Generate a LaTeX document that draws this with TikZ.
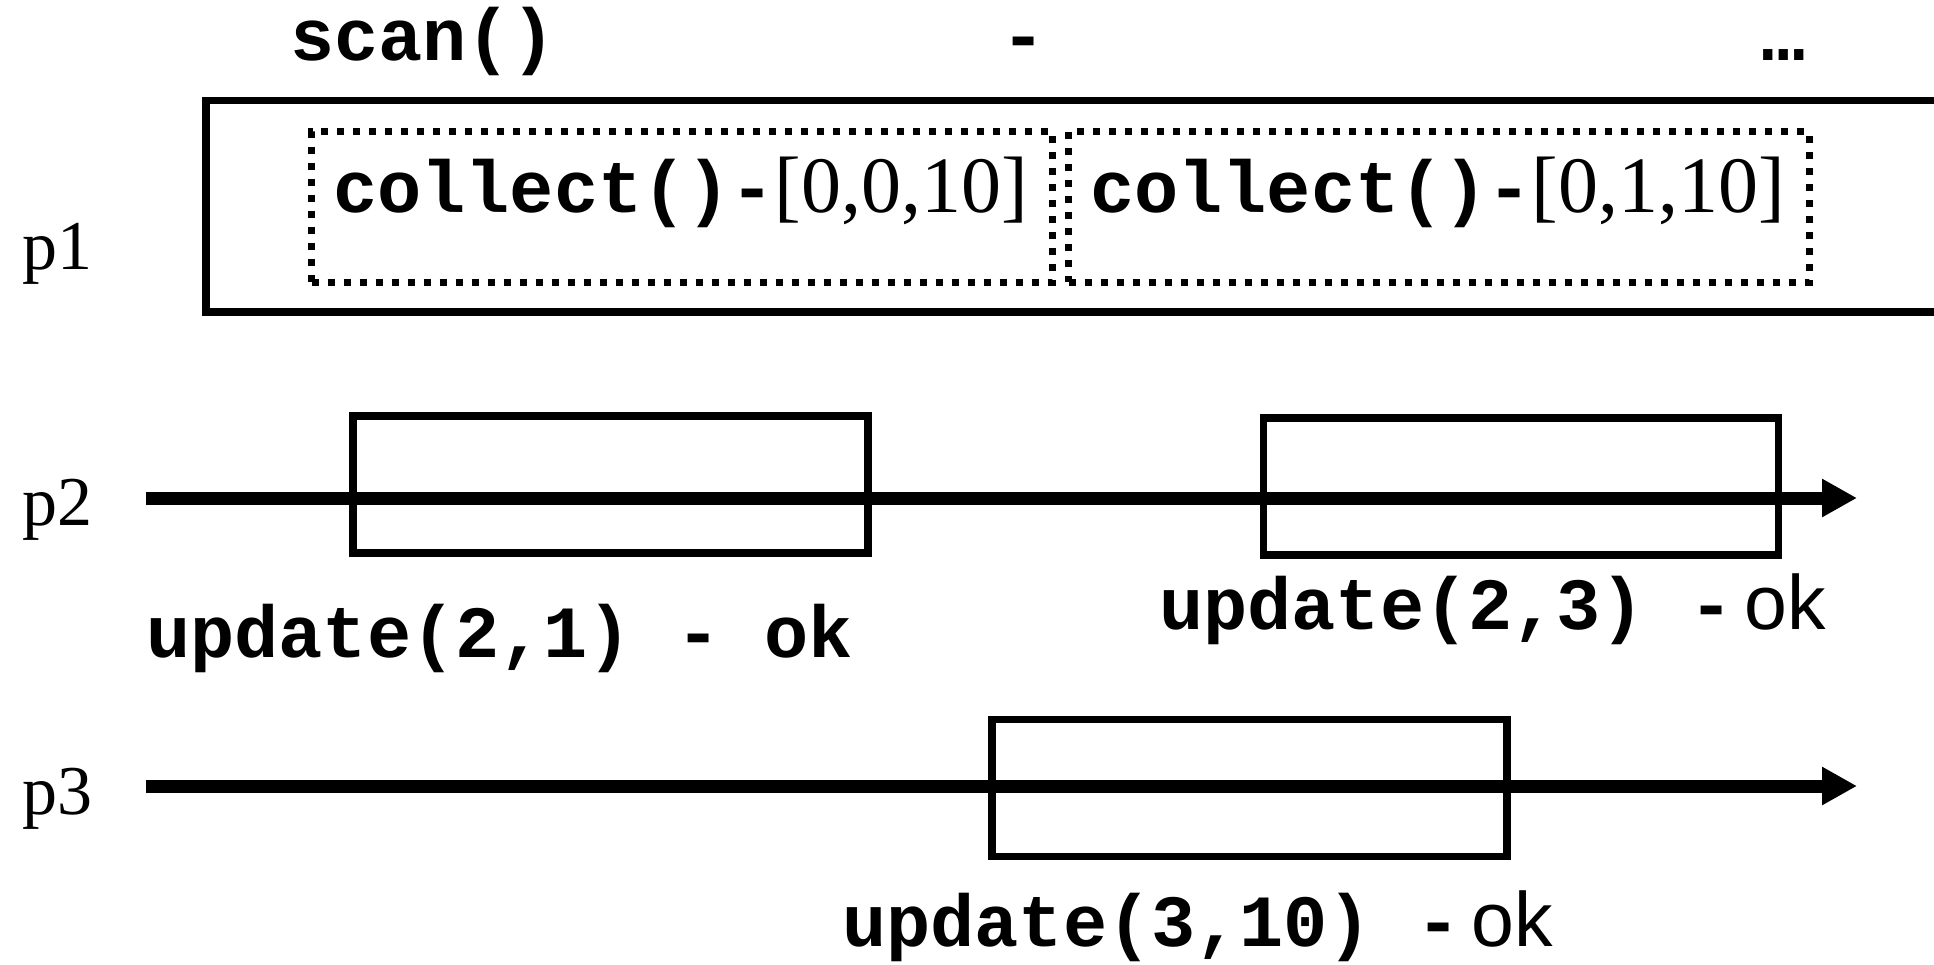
\documentclass[tikz,border=0pt]{standalone}
\usepackage{fontspec}
\setmainfont{Liberation Serif}
\newfontfamily\codefam{Liberation Mono}
\newfontfamily\okfam{Liberation Sans}
\usetikzlibrary{arrows.meta}

\newcommand\codesize{\fontsize{73.6pt}{80pt}\selectfont}
\newcommand\vecsize{\fontsize{80pt}{88pt}\selectfont}
\newcommand\oksize{\fontsize{77pt}{84pt}\selectfont}
\newcommand\okword{\hspace{11pt}{\okfam\mdseries\oksize ok}}

\begin{document}
\begin{tikzpicture}[x=1pt, y=-1pt,
        timeline/.style={line width=13pt, -{Triangle[length=35pt,width=36pt]}},
        opbox/.style={draw, line width=7.5pt, inner sep=0pt, minimum width=515pt, minimum height=137pt},
        collectbox/.style={draw, line width=7pt, dash pattern=on 7pt off 9pt, inner sep=0pt, minimum height=150.5pt},
        code/.style={anchor=base west, inner sep=0pt, font=\codefam\bfseries\codesize},
        proc/.style={anchor=base west, inner sep=0pt, font=\fontsize{70pt}{76pt}\selectfont}]
    \useasboundingbox (0,0) rectangle (1934,964);

    % Top line:
    \node[code] (scan) at (290,60) {scan()};
    \node[code, anchor=base] (dash) at (1024,60) {-};
    \node[code, anchor=base] (dots) at (1784,60) {…};

    % p1 (scan with two collects):
    \draw[line width=7.5pt] (1944,100.5) -- (206,100.5) -- (206,312) -- (1944,312);
    \node[proc] (p1) at (22,269) {p1};
    \node[collectbox, minimum width=741pt] (col1) at (682,207) {};
    \node[collectbox, minimum width=740.5pt] (col2) at (1438.75,207) {};
    \node[code] (col1txt) at (333,212) {collect()-{\rmfamily\mdseries\vecsize[0,0,10]}};
    \node[code] (col2txt) at (1090,212) {collect()-{\rmfamily\mdseries\vecsize[0,1,10]}};

    % p2:
    \node[proc] (p2) at (22,525) {p2};
    \coordinate (p2start) at (146,498);
    \coordinate (p2end) at (1857,498);
    \draw[timeline] (p2start) -- (p2end);
    \node[opbox] (upd21) at (610.5,484.5) {};
    \node[opbox] (upd23) at (1521,486.5) {};
    \node[code] (upd21txt) at (146,657) {update(2,1) - ok};
    \node[code] (upd23txt) at (1159,629) {update(2,3) -\okword};

    % p3:
    \node[proc] (p3) at (22,814) {p3};
    \coordinate (p3start) at (146,786);
    \coordinate (p3end) at (1857,786);
    \draw[timeline] (p3start) -- (p3end);
    \node[opbox] (upd310) at (1249.5,788) {};
    \node[code] (upd310txt) at (842,946) {update(3,10) -\okword};
\end{tikzpicture}
\end{document}
